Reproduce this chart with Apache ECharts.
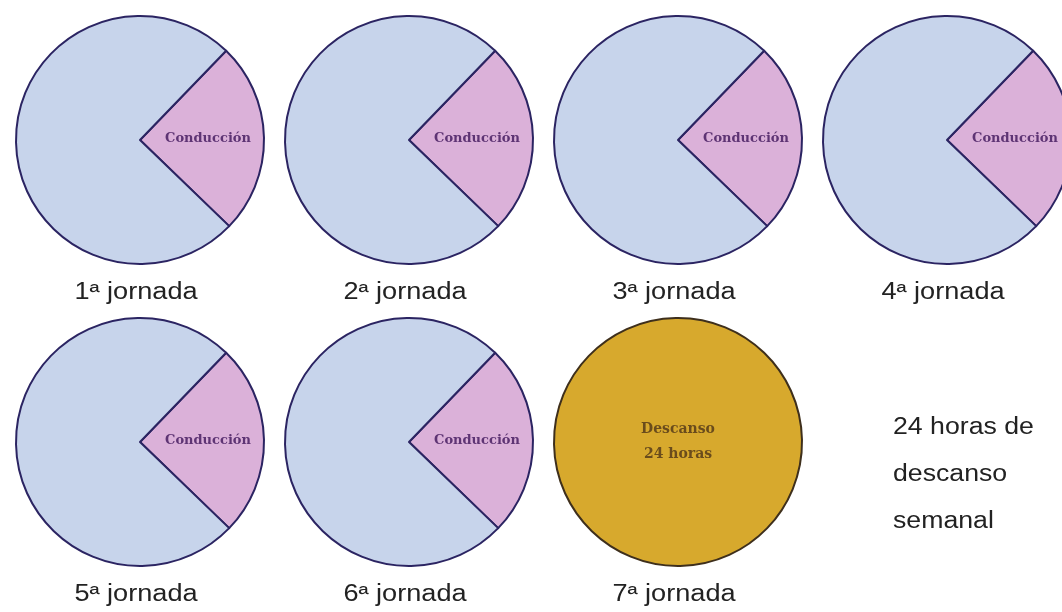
<!DOCTYPE html>
<html>
<head>
<meta charset="utf-8">
<script src="https://cdn.jsdelivr.net/npm/echarts@6/dist/echarts.min.js"></script>
<style>
  html, body { margin: 0; padding: 0; background: #fff; }
  #main { width: 1062px; height: 612px; }
</style>
</head>
<body>
<div id="main"></div>
<script>
// horas por jornada (de 24)
var jornadas = ['1ª jornada', '2ª jornada', '3ª jornada', '4ª jornada', '5ª jornada', '6ª jornada', '7ª jornada'];
var horasConduccion = [6, 6, 6, 6, 6, 6, 0];
var horasResto = [18, 18, 18, 18, 18, 18, 0];
var horasDescanso = [0, 0, 0, 0, 0, 0, 24];
var notaLineas = ['24 horas de', 'descanso', 'semanal'];

// centros de cada tarta en pixeles
var centros = [[140, 140], [409, 140], [678, 140], [947, 140], [140, 442], [409, 442], [678, 442]];
var radio = 124;

var series = [];
var graphic = [];

jornadas.forEach(function (nombre, i) {
  var data = [];
  if (horasDescanso[i] > 0) {
    data.push({
      name: 'Descanso\n24 horas', value: horasDescanso[i],
      itemStyle: { color: '#d7a92d', borderColor: '#3e2f1c' },
      label: { show: true, position: 'center', color: '#6a4c1c', fontSize: 14, lineHeight: 25, padding: [14, 0, 0, 0] }
    });
  } else {
    data.push({
      name: 'Conducción', value: horasConduccion[i],
      itemStyle: { color: '#dbb1d9' },
      label: { show: true, position: 'inside', color: '#5e3474', fontSize: 13, offset: [3, 0] }
    });
    data.push({
      name: 'Resto', value: horasResto[i],
      itemStyle: { color: '#c7d4eb' },
      label: { show: false }
    });
  }
  series.push({
    type: 'pie',
    center: centros[i],
    radius: [0, radio],
    startAngle: 46,
    clockwise: true,
    silent: true,
    avoidLabelOverlap: false,
    labelLine: { show: false },
    itemStyle: { borderColor: '#2b2462', borderWidth: 2 },
    label: { fontFamily: 'DejaVu Serif', fontWeight: 'bold' },
    data: data
  });
  // etiqueta de la jornada (texto algo ensanchado como en el original)
  graphic.push({
    type: 'text',
    x: centros[i][0] - 4,
    y: centros[i][1] + 153,
    scaleX: 1.18,
    style: {
      text: nombre, x: 0, y: 0, textAlign: 'center', textVerticalAlign: 'middle',
      fontFamily: 'Liberation Sans', fontSize: 23, fill: '#222'
    }
  });
});

notaLineas.forEach(function (t, k) {
  graphic.push({
    type: 'text',
    x: 893,
    y: 428 + k * 47,
    scaleX: 1.16,
    style: {
      text: t, x: 0, y: 0, textAlign: 'left', textVerticalAlign: 'middle',
      fontFamily: 'Liberation Sans', fontSize: 23, fill: '#222'
    }
  });
});

var chart = echarts.init(document.getElementById('main'));
chart.setOption({
  backgroundColor: '#fff',
  animation: false,
  series: series,
  graphic: graphic
});
</script>
</body>
</html>
